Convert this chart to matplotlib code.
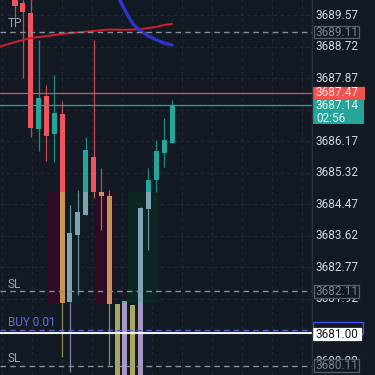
import matplotlib
matplotlib.use("Agg")
import matplotlib.pyplot as plt
import matplotlib.transforms as mtransforms
from matplotlib.patches import Rectangle

# candle data, index 0..20
opens  = [3689.98, 3689.89, 3689.62, 3686.49, 3687.38, 3686.36, 3686.90, 3681.83, 3683.63, 3684.17,
          3685.74, 3684.79, 3684.69, 3681.77, 3679.50, 3681.75, 3679.50, 3684.34, 3685.12, 3685.85, 3686.12]
closes = [3689.81, 3689.65, 3686.52, 3687.33, 3686.31, 3686.93, 3681.80, 3683.69, 3684.25, 3685.93,
          3684.79, 3684.69, 3681.77, 3679.50, 3681.85, 3679.50, 3684.36, 3685.12, 3685.90, 3686.20, 3687.14]
highs  = [3690.20, 3690.20, 3690.20, 3688.90, 3687.68, 3687.95, 3687.25, 3684.44, 3684.85, 3686.28,
          3688.90, 3685.44, 3684.85, 3681.77, 3681.85, 3681.75, 3684.40, 3685.44, 3686.20, 3686.79, 3687.28]
lows   = [3689.49, 3687.87, 3686.28, 3685.90, 3685.63, 3685.60, 3680.34, 3679.94, 3682.01, 3684.17,
          3684.63, 3683.77, 3680.13, 3679.50, 3679.50, 3679.50, 3679.50, 3683.23, 3684.79, 3685.47, 3686.12]

# moving averages
red_ma_x = [-2, 0, 2, 4, 6, 8, 10, 12, 14, 16, 18, 19, 20]
red_ma_y = [3688.71, 3688.84, 3688.95, 3689.00, 3689.06, 3689.10, 3689.14, 3689.18, 3689.17,
            3689.19, 3689.25, 3689.30, 3689.33]
blue_ma_x = [13, 14, 15, 16, 17, 18, 19, 20]
blue_ma_y = [3690.11, 3689.70, 3689.33, 3689.14, 3689.00, 3688.90, 3688.81, 3688.76]

# colour band on the candles
band_hi = 3684.79
band_lo = 3681.80

# zones (x from, x to, colour)
zones = [(4.2, 6.5, "#2e0b23"), (6.5, 8.5, "#0d1f25"), (10.3, 12.5, "#2e0b23"), (14.4, 18.2, "#0b2623")]

# order lines
tp_price = 3689.11
sl_price = 3682.11
sl2_price = 3680.11
entry_price = 3681.07
bid_line = 3681.00
ask_price = 3687.47
last_price = 3687.14
countdown = "02:56"

tick_top = 3689.57
tick_step = 0.85
tick_count = 12
hidden_ticks = [3687.02, 3681.07]  # fully covered by the price boxes

bg = "#131a24"
up_cols = ["#26a69a", "#7ea3b2", "#a899c4"]
dn_cols = ["#f0545c", "#c7955a", "#a9a85e"]

fig = plt.figure(figsize=(3.75, 3.75), dpi=100, facecolor=bg)
ax = fig.add_axes([0, 0, 312 / 375, 1])
ax.set_facecolor(bg)
ax.set_xlim(-1.91, 37.83)
ax.set_ylim(3679.856, 3689.975)
for s in ax.spines.values():
    s.set_visible(False)
ax.set_xticks([])
ax.set_yticks([])

ticks = [round(tick_top - tick_step * k, 2) for k in range(tick_count)]
for t in ticks:
    ax.axhline(t, color="#232a36", lw=0.8, ls=(0, (3, 3)), zorder=0)
for gx in range(11):
    ax.axvline((2 + 30 * gx - 15) / 7.85, color="#232a36", lw=0.8, ls=(0, (3, 3)), zorder=0)

for x0, x1, c in zones:
    ax.add_patch(Rectangle((x0, band_lo), x1 - x0, band_hi - band_lo, color=c, lw=0, zorder=1))


def segments(a, b):
    lo, hi = min(a, b), max(a, b)
    out = []
    for k, (s0, s1) in enumerate([(band_hi, 1e9), (band_lo, band_hi), (-1e9, band_lo)]):
        l, h = max(lo, s0), min(hi, s1)
        if h > l:
            out.append((k, l, h))
    return out


w = 0.64
for i in range(len(opens)):
    o, c, h, l = opens[i], closes[i], highs[i], lows[i]
    cols = up_cols if c >= o else dn_cols
    for k, a, b in segments(l, h):
        ax.plot([i, i], [a, b], color=cols[k], lw=0.9, alpha=0.8, zorder=2, solid_capstyle="butt")
    for k, a, b in segments(o, c):
        ax.add_patch(Rectangle((i - w / 2, a), w, max(b - a, 0.03), color=cols[k], lw=0, zorder=3))

ax.plot(red_ma_x, red_ma_y, color="#d0202e", lw=1.4, zorder=4)
ax.plot(blue_ma_x, blue_ma_y, color="#2b35d0", lw=2.4, zorder=4, solid_capstyle="round")

ax.axhline(ask_price, color="#e0525a", lw=0.9, zorder=5)
ax.axhline(last_price, color="#26a69a", lw=0.9, zorder=5)
for p in [tp_price, sl_price, sl2_price]:
    ax.axhline(p, color="#8a8f99", lw=1.0, ls=(0, (4, 3)), zorder=5)
ax.axhline(entry_price, color="#5060d8", lw=1.0, ls=(0, (4, 3)), zorder=5)
ax.axhline(bid_line, color="#f0f0f0", lw=1.5, zorder=6)

lbl = dict(fontsize=8.5, family="Roboto", va="center", ha="left")
ax.text(-0.9, tp_price + 0.22, "TP", color="#9ea3ad", **lbl)
ax.text(-0.9, sl_price + 0.2, "SL", color="#9ea3ad", **lbl)
ax.text(-0.9, entry_price + 0.2, "BUY 0.01", color="#6070e0", **lbl)
ax.text(-0.9, sl2_price + 0.2, "SL", color="#9ea3ad", **lbl)

# price scale on the right
tr = mtransforms.blended_transform_factory(fig.transFigure, ax.transData)
fig.add_artist(plt.Line2D([312 / 375, 312 / 375], [0, 1], color="#2a303c", lw=1))
for t in ticks:
    if t in hidden_ticks:
        continue
    ax.text(316 / 375, t, f"{t:.2f}", transform=tr, color="#d1d4dc", clip_on=False, **lbl)

bh = 0.33


def box(p, face, edge, text, tcolor, x0=313, x1=364, h=bh):
    ax.add_patch(Rectangle((x0 / 375, p - h / 2), (x1 - x0) / 375, h, transform=tr, facecolor=face,
                           edgecolor=edge, lw=0.9, clip_on=False, zorder=10))
    ax.text(316 / 375, p, text, transform=tr, color=tcolor, clip_on=False, zorder=11, **lbl)


box(tp_price, bg, "#5a606b", f"{tp_price:.2f}", "#7d828c", 314, 359)
box(ask_price, "#ef5350", "#ef5350", f"{ask_price:.2f}", "#fde0e0")
ax.add_patch(Rectangle((313 / 375, 3686.63), 51 / 375, 0.67, transform=tr, facecolor="#26a69a",
                       lw=0, clip_on=False, zorder=10))
ax.text(316 / 375, last_price, f"{last_price:.2f}", transform=tr, color="#e0f5f2", clip_on=False, zorder=11, **lbl)
ax.text(316 / 375, 3686.79, countdown, transform=tr, color="#e0f5f2", clip_on=False, zorder=11, **lbl)
box(sl_price, bg, "#5a606b", f"{sl_price:.2f}", "#7d828c", 314, 359)
box(entry_price + 0.05, bg, "#3d5afe", "", "#3d5afe", 313, 363)
box(bid_line - 0.04, "#ffffff", "#ffffff", f"{bid_line:.2f}", "#131722", 313, 361, 0.34)
box(sl2_price, bg, "#5a606b", f"{sl2_price:.2f}", "#7d828c", 314, 359)

fig.savefig("out.png", dpi=100, facecolor=bg)
